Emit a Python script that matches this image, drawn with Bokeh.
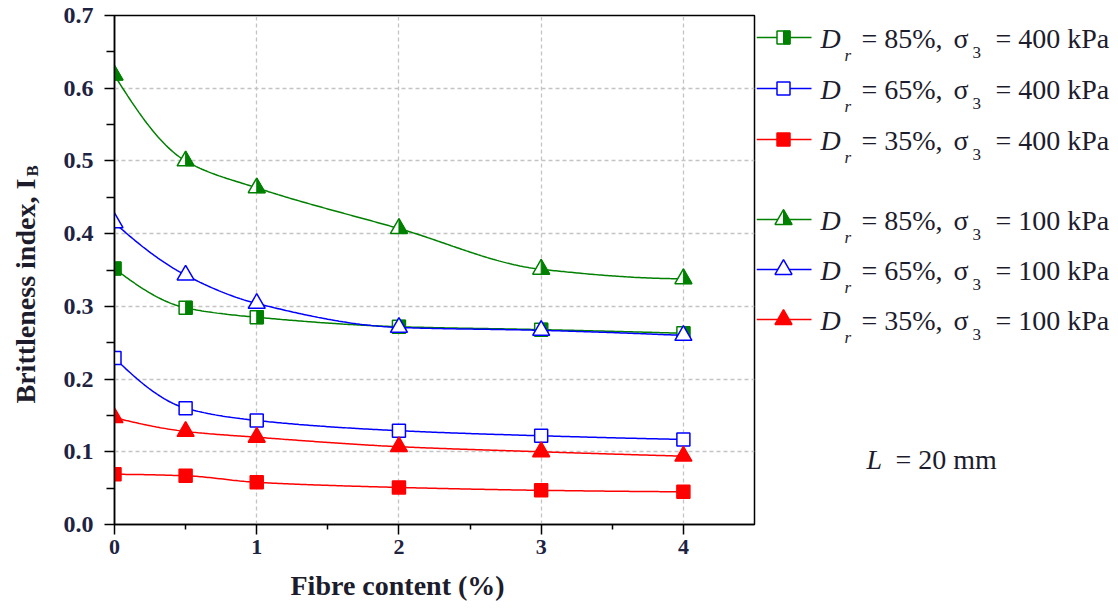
import numpy as np
from bokeh.plotting import figure
from bokeh.layouts import row
from bokeh.models import Range1d, FixedTicker, PrintfTickFormatter, Title
from bokeh.core.properties import value
from bokeh.embed import file_html
from bokeh.resources import INLINE

# ---------------- data ----------------
fibre_content = [0, 0.5, 1, 2, 3, 4]          # fibre content (%)
dr_values = ["85", "65", "35"]                 # relative density D_r (%)
sigma3_values = ["400", "100"]                 # confining pressure sigma_3 (kPa)

ib_dr85_s400 = [0.352, 0.298, 0.285, 0.272, 0.268, 0.263]
ib_dr65_s400 = [0.229, 0.160, 0.143, 0.129, 0.122, 0.117]
ib_dr35_s400 = [0.069, 0.067, 0.058, 0.051, 0.047, 0.045]
ib_dr85_s100 = [0.618, 0.500, 0.463, 0.407, 0.351, 0.338]
ib_dr65_s100 = [0.415, 0.343, 0.304, 0.271, 0.267, 0.260]
ib_dr35_s100 = [0.147, 0.128, 0.120, 0.107, 0.100, 0.094]

x_ticks = [0, 1, 2, 3, 4]
x_minor = [0.5, 1.5, 2.5, 3.5]
y_ticks = [0.0, 0.1, 0.2, 0.3, 0.4, 0.5, 0.6, 0.7]
y_minor = [0.05, 0.15, 0.25, 0.35, 0.45, 0.55, 0.65]
fibre_length_mm = "20"

# ---------------- styling / layout ----------------
GREEN, BLUE, RED = "#008000", "#0000ff", "#ff0000"
TEXT = "#1c1c2c"
TICK_TEXT = "#1e2342"
SERIF = "Liberation Serif"
X_MIN, X_MAX, Y_MIN, Y_MAX = 0.0, 4.5, 0.0, 0.7
W, H = 1118, 612
FRAME_L, FRAME_R, FRAME_T, FRAME_B = 114, 754, 15, 524
SIDE_W = 52                      # narrow panel holding the vertical axis title
MAIN_W = 756                     # right edge of the main panel
SQ_SIZE, TRI_SIZE = 13, 17

PXX = (X_MAX - X_MIN) / (FRAME_R - FRAME_L)   # data units per screen pixel
PXY = (Y_MAX - Y_MIN) / (FRAME_B - FRAME_T)


def monotone_curve(x, y, n=300):
    """Monotone cubic Hermite curve through the measured points."""
    x = np.asarray(x, float)
    y = np.asarray(y, float)
    h = np.diff(x)
    d = np.diff(y) / h
    m = np.zeros_like(y)
    for k in range(1, len(x) - 1):
        if d[k - 1] * d[k] <= 0:
            m[k] = 0.0
        else:
            w1 = 2 * h[k] + h[k - 1]
            w2 = h[k] + 2 * h[k - 1]
            m[k] = (w1 + w2) / (w1 / d[k - 1] + w2 / d[k])

    def end_slope(h0, h1, d0, d1):
        s = ((2 * h0 + h1) * d0 - h0 * d1) / (h0 + h1)
        if np.sign(s) != np.sign(d0):
            s = 0.0
        elif np.sign(d0) != np.sign(d1) and abs(s) > abs(3 * d0):
            s = 3 * d0
        return s

    m[0] = end_slope(h[0], h[1], d[0], d[1])
    m[-1] = end_slope(h[-1], h[-2], d[-1], d[-2])
    xs = np.linspace(x[0], x[-1], n)
    i = np.clip(np.searchsorted(x, xs, side="right") - 1, 0, len(x) - 2)
    t = (xs - x[i]) / h[i]
    h00 = 2 * t**3 - 3 * t**2 + 1
    h10 = t**3 - 2 * t**2 + t
    h01 = -2 * t**3 + 3 * t**2
    h11 = t**3 - t**2
    ys = h00 * y[i] + h10 * h[i] * m[i] + h01 * y[i + 1] + h11 * h[i] * m[i + 1]
    return xs, ys


def right_half(kind, xc, yc, size, ux, uy):
    """Polygon of the filled right half of a marker (ux, uy: data units per pixel, uy<0 if y grows downward)."""
    r = size / 2.0
    if kind == "square":
        xs = [xc, xc + r * ux, xc + r * ux, xc]
        ys = [yc - r * uy, yc - r * uy, yc + r * uy, yc + r * uy]
    else:
        hgt = r * np.sqrt(3)
        xs = [xc, xc + r * ux, xc]
        ys = [yc - hgt / 3 * uy, yc - hgt / 3 * uy, yc + 2 * hgt / 3 * uy]
    return xs, ys


series = [
    (ib_dr85_s400, dr_values[0], sigma3_values[0], GREEN, "square", "half"),
    (ib_dr65_s400, dr_values[1], sigma3_values[0], BLUE, "square", "open"),
    (ib_dr35_s400, dr_values[2], sigma3_values[0], RED, "square", "solid"),
    (ib_dr85_s100, dr_values[0], sigma3_values[1], GREEN, "triangle", "half"),
    (ib_dr65_s100, dr_values[1], sigma3_values[1], BLUE, "triangle", "open"),
    (ib_dr35_s100, dr_values[2], sigma3_values[1], RED, "triangle", "solid"),
]


def draw_marker(fig, xs, ys, color, kind, fill, ux, uy):
    size = SQ_SIZE if kind == "square" else TRI_SIZE
    face = color if fill == "solid" else "white"
    fig.scatter(xs, ys, marker=kind, size=size, fill_color=face,
                line_color=color, line_width=1.5)
    if fill == "half":
        pxs, pys = [], []
        for xv, yv in zip(xs, ys):
            a, b = right_half(kind, xv, yv, size, ux, uy)
            pxs.append(a)
            pys.append(b)
        fig.patches(pxs, pys, fill_color=color, line_color=color, line_width=1)


def blank_panel(width, x_range, y_range):
    f = figure(width=width, height=H, x_range=x_range, y_range=y_range,
               output_backend="svg", toolbar_location=None, x_axis_type=None, y_axis_type=None,
               min_border_left=0, min_border_right=0,
               min_border_top=FRAME_T, min_border_bottom=H - FRAME_B)
    f.outline_line_color = None
    f.background_fill_color = "white"
    f.border_fill_color = "white"
    f.grid.visible = False
    return f


# ---------------- main plot ----------------
p = figure(width=MAIN_W - SIDE_W, height=H, x_range=Range1d(X_MIN, X_MAX), y_range=Range1d(Y_MIN, Y_MAX),
           output_backend="svg", toolbar_location=None,
           min_border_left=FRAME_L - SIDE_W, min_border_right=MAIN_W - FRAME_R,
           min_border_top=FRAME_T, min_border_bottom=H - FRAME_B)
p.background_fill_color = "white"
p.border_fill_color = "white"
p.outline_line_color = "black"
p.outline_line_width = 1.5

p.xaxis.ticker = FixedTicker(ticks=x_ticks, minor_ticks=x_minor)
p.yaxis.ticker = FixedTicker(ticks=y_ticks, minor_ticks=y_minor)
p.yaxis.formatter = PrintfTickFormatter(format="%.1f")
for ax in (p.xaxis[0], p.yaxis[0]):
    ax.axis_line_color = "black"
    ax.axis_line_width = 1.5
    ax.major_tick_line_color = "black"
    ax.minor_tick_line_color = "black"
    ax.major_tick_line_width = 1.5
    ax.minor_tick_line_width = 1.5
    ax.major_tick_in = 0
    ax.minor_tick_in = 0
    ax.major_tick_out = 10
    ax.major_label_text_font = SERIF
    ax.major_label_text_font_style = "bold"
    ax.major_label_text_color = TICK_TEXT
p.xaxis.major_label_text_font_size = "22px"
p.yaxis.major_label_text_font_size = "24px"
p.xaxis.minor_tick_out = 5
p.yaxis.minor_tick_out = 8
p.xaxis.major_label_standoff = 5
p.yaxis.major_label_standoff = 11

p.xgrid.ticker = FixedTicker(ticks=x_ticks[1:])
p.ygrid.ticker = FixedTicker(ticks=y_ticks[1:-1])
for g in (p.xgrid[0], p.ygrid[0]):
    g.grid_line_color = "#c4c4c4"
    g.grid_line_dash = "4 3"
    g.grid_line_width = 1.3

# x-axis title, set a little left of the frame centre
p.add_layout(Title(text="Fibre content (%)", align="left", offset=290 - FRAME_L, standoff=23,
                   text_font=SERIF, text_font_style="bold", text_font_size="28px",
                   text_color=TEXT), "below")

for vals, dr, s3, color, kind, fill in series:
    lx, ly = monotone_curve(fibre_content, vals)
    p.line(lx, ly, line_color=color, line_width=1.5)
    draw_marker(p, fibre_content, vals, color, kind, fill, PXX, PXY)

# ---------------- y-axis title panel (coordinates in pixels, y measured upward) ----------------
side = blank_panel(SIDE_W, Range1d(0, SIDE_W), Range1d(H - FRAME_B, H - FRAME_T))
side.text(x=[25], y=[H - 403], text=["Brittleness index, I"], angle=np.pi / 2,
          text_align="left", text_baseline="alphabetic",
          text_font=value(SERIF), text_font_style="bold", text_font_size="28px", text_color=TEXT)
side.text(x=[32], y=[H - 176], text=["B"], angle=np.pi / 2,
          text_align="left", text_baseline="alphabetic",
          text_font=value(SERIF), text_font_style="bold", text_font_size="17px", text_color=TEXT)

# ---------------- legend panel (coordinates in pixels, y measured downward) ----------------
leg = blank_panel(W - MAIN_W, Range1d(MAIN_W, W), Range1d(FRAME_B, FRAME_T))

LEG_Y = [37, 88, 139, 219, 269, 319]
for (vals, dr, s3, color, kind, fill), ly in zip(series, LEG_Y):
    leg.segment(x0=[MAIN_W], y0=[ly], x1=[811], y1=[ly], line_color=color, line_width=1.5)
    draw_marker(leg, [783], [ly], color, kind, fill, 1.0, -1.0)
    leg.text(x=[820], y=[ly + 1], text=["D"], text_font=value(SERIF), text_font_style="italic",
             text_font_size="28px", text_color=TEXT, text_baseline="alphabetic")
    leg.text(x=[844], y=[ly + 18], text=["r"], text_font=value(SERIF), text_font_style="italic",
             text_font_size="17px", text_color=TEXT, text_baseline="alphabetic")
    leg.text(x=[861], y=[ly + 1], text=[f"= {dr}%,"], text_font=value(SERIF),
             text_font_size="28px", text_color=TEXT, text_baseline="alphabetic")
    leg.text(x=[953], y=[ly + 1], text=["σ"], text_font=value(SERIF),
             text_font_size="28px", text_color=TEXT, text_baseline="alphabetic")
    leg.text(x=[972], y=[ly + 15], text=["3"], text_font=value(SERIF),
             text_font_size="17px", text_color=TEXT, text_baseline="alphabetic")
    leg.text(x=[995], y=[ly + 1], text=[f"= {s3} kPa"], text_font=value(SERIF),
             text_font_size="28px", text_color=TEXT, text_baseline="alphabetic")

leg.text(x=[866], y=[459], text=["L"], text_font=value(SERIF), text_font_style="italic",
         text_font_size="28px", text_color=TEXT, text_baseline="alphabetic")
leg.text(x=[895], y=[459], text=[f"= {fibre_length_mm} mm"], text_font=value(SERIF),
         text_font_size="28px", text_color=TEXT, text_baseline="alphabetic")

layout = row(side, p, leg, spacing=0)
with open("out.html", "w") as f:
    f.write(file_html(layout, INLINE))
